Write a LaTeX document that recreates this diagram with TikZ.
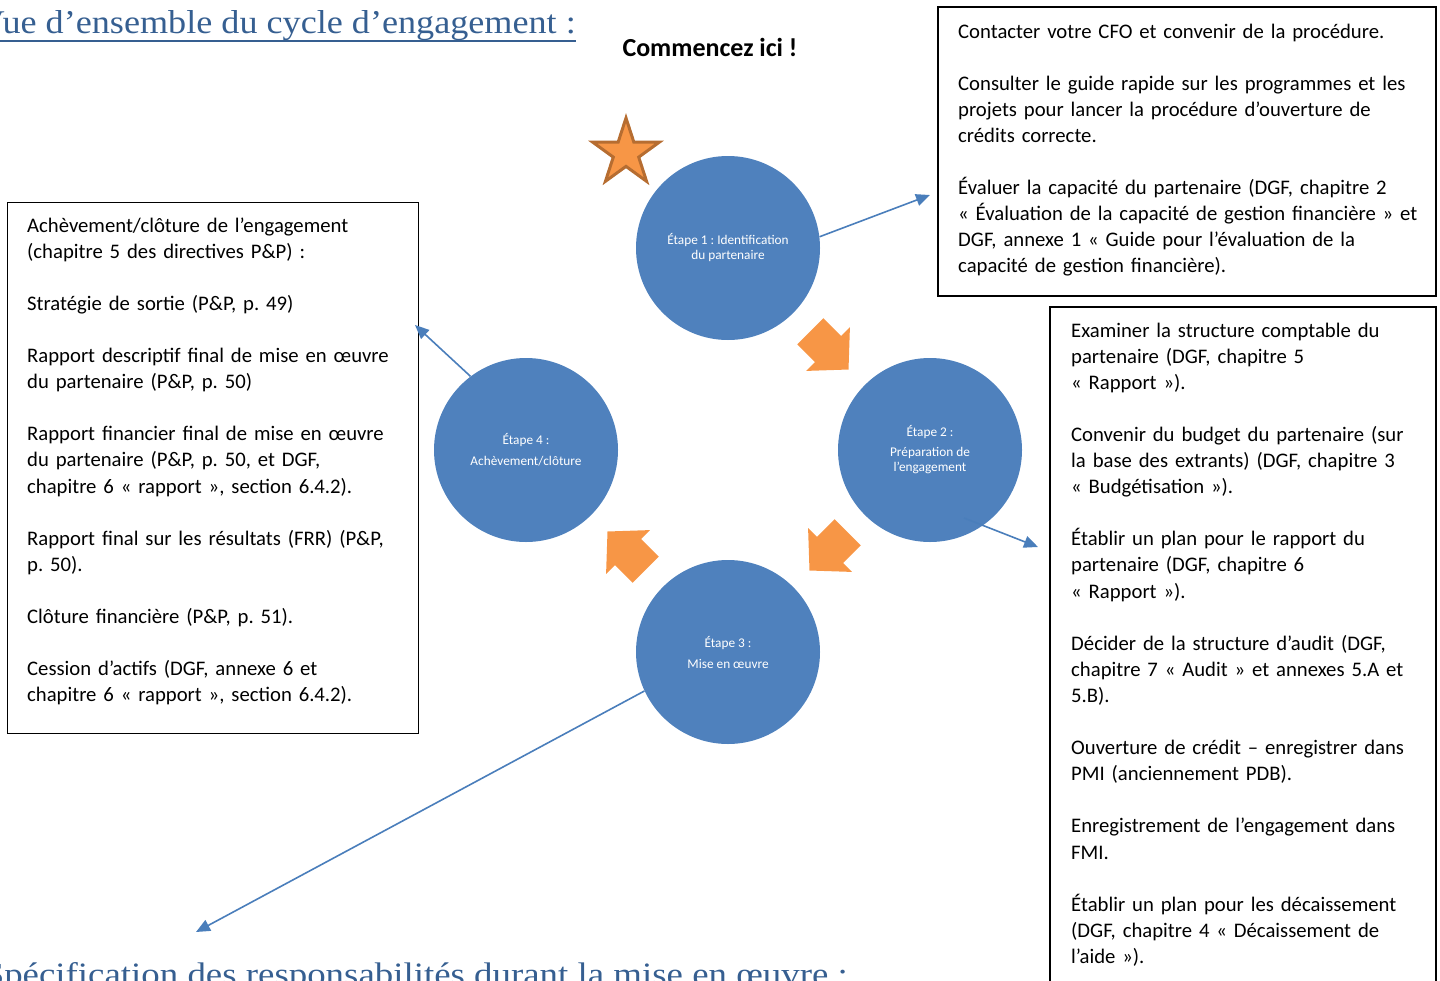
\documentclass[tikz,border=0pt]{standalone}
\usepackage{fontspec}
\usepackage{graphicx}
\setmainfont{Carlito}
\newfontfamily\titlefont{Liberation Serif}
\usetikzlibrary{arrows.meta,shapes.geometric}
\definecolor{stepblue}{HTML}{4F81BD}
\definecolor{linkblue}{HTML}{4A7EBB}
\definecolor{orangefill}{HTML}{F79646}
\definecolor{orangeedge}{HTML}{B66D31}
\definecolor{headblue}{HTML}{365F91}
\tikzset{
  pics/blockarrow/.style={code={
    \fill[orangefill] (-25,18.5) -- (0,18.5) -- (0,31) -- (29,0) -- (0,-31) -- (0,-18.5) -- (-25,-18.5) -- cycle;
  }}
}
\frenchspacing
\begin{document}
\begin{tikzpicture}[x=1pt,y=1pt,
  stepcircle/.style={circle, fill=stepblue, minimum size=184pt, inner sep=0pt,
    text=white, font=\fontsize{13.3}{15}\selectfont, align=center},
  infobox/.style={draw=black, line width=1.6pt, anchor=north west, inner sep=0pt},
  infotext/.style={anchor=base west, inner sep=0pt, text width=470pt, align=left,
    font=\fontsize{20.7}{26.1}\selectfont},
  conn/.style={draw=linkblue, line width=1.6pt, -{Triangle[length=14pt,width=12pt]}},
  heading/.style={inner sep=0pt, text=headblue, anchor=base east}
]
\useasboundingbox (0,0) rectangle (1440,-980);
\clip (0,0) rectangle (1440,-980);

% headings
\node[heading] (title) at (576,-33) {\resizebox{597pt}{23pt}{\titlefont Vue d’ensemble du cycle d’engagement :}};
\draw[headblue, line width=1.5pt] (0,-41) -- (title.base east |- 0,-41);
\node[heading] (subtitle) at (848,-985) {\resizebox{864pt}{23pt}{\titlefont Spécification des responsabilités durant la mise en œuvre :}};

\node[font=\bfseries\fontsize{26}{30}\selectfont, inner sep=0pt] (start) at (710,-47) {Commencez ici !};

% star
\node[star, star points=5, star point ratio=2.618, minimum size=70pt, inner sep=0pt,
  fill=orangefill, draw=orangeedge, line width=3pt] (star) at (626,-153) {};

% step circles
\node[stepcircle] (c1) at (728,-248) {Étape 1 : Identification\\du partenaire};
\node[stepcircle] (c2) at (930,-450) {Étape 2 :\\[5pt]Préparation de\\l’engagement};
\node[stepcircle] (c3) at (728,-652) {Étape 3 :\\[6pt]Mise en œuvre};
\node[stepcircle] (c4) at (526,-450) {Étape 4 :\\[6pt]Achèvement/clôture};

% orange block arrows
\pic[rotate=-45] at (828,-349) {blockarrow};
\pic[rotate=-135] at (830,-550) {blockarrow};
\pic[rotate=135] at (628,-552) {blockarrow};

% info boxes
\node[infobox, minimum width=498pt, minimum height=289pt] (box1) at (937,-6) {};
\node[infobox, minimum width=386pt, minimum height=700pt] (box2) at (1049,-306) {};
\node[infobox, line width=1pt, minimum width=411pt, minimum height=531pt] (box3) at (7,-202) {};

\node[infotext] (t1) at (958,-38) {Contacter votre CFO et convenir de la procédure.\\[26.1pt]
Consulter le guide rapide sur les programmes et les\\
projets pour lancer la procédure d’ouverture de\\
crédits correcte.\\[26.1pt]
Évaluer la capacité du partenaire (DGF, chapitre 2\\
« Évaluation de la capacité de gestion financière » et\\
DGF, annexe 1 « Guide pour l’évaluation de la\\
capacité de gestion financière).};

\node[infotext] (t2) at (1071,-337) {Examiner la structure comptable du\\
partenaire (DGF, chapitre 5\\
« Rapport »).\\[26.1pt]
Convenir du budget du partenaire (sur\\
la base des extrants) (DGF, chapitre 3\\
« Budgétisation »).\\[26.1pt]
Établir un plan pour le rapport du\\
partenaire (DGF, chapitre 6\\
« Rapport »).\\[26.1pt]
Décider de la structure d’audit (DGF,\\
chapitre 7 « Audit » et annexes 5.A et\\
5.B).\\[26.1pt]
Ouverture de crédit – enregistrer dans\\
PMI (anciennement PDB).\\[26.1pt]
Enregistrement de l’engagement dans\\
FMI.\\[26.1pt]
Établir un plan pour les décaissement\\
(DGF, chapitre 4 « Décaissement de\\
l’aide »).};

\node[infotext] (t3) at (27,-232) {Achèvement/clôture de l’engagement\\
(chapitre 5 des directives P\&P) :\\[26.1pt]
Stratégie de sortie (P\&P, p. 49)\\[26.1pt]
Rapport descriptif final de mise en œuvre\\
du partenaire (P\&P, p. 50)\\[26.1pt]
Rapport financier final de mise en œuvre\\
du partenaire (P\&P, p. 50, et DGF,\\
chapitre 6 « rapport », section 6.4.2).\\[26.1pt]
Rapport final sur les résultats (FRR) (P\&P,\\
p. 50).\\[26.1pt]
Clôture financière (P\&P, p. 51).\\[26.1pt]
Cession d’actifs (DGF, annexe 6 et\\
chapitre 6 « rapport », section 6.4.2).};

% connectors
\coordinate (e1) at (930,-195);
\coordinate (s2) at (964,-518);
\coordinate (e2) at (1038,-547);
\coordinate (e3) at (415,-325);
\coordinate (e4) at (196,-932);
\draw[conn] (c1.7) -- (e1);
\draw[conn] (s2) -- (e2);
\draw[conn] (c4.127) -- (e3);
\draw[conn] (c3.205) -- (e4);
\end{tikzpicture}
\end{document}
